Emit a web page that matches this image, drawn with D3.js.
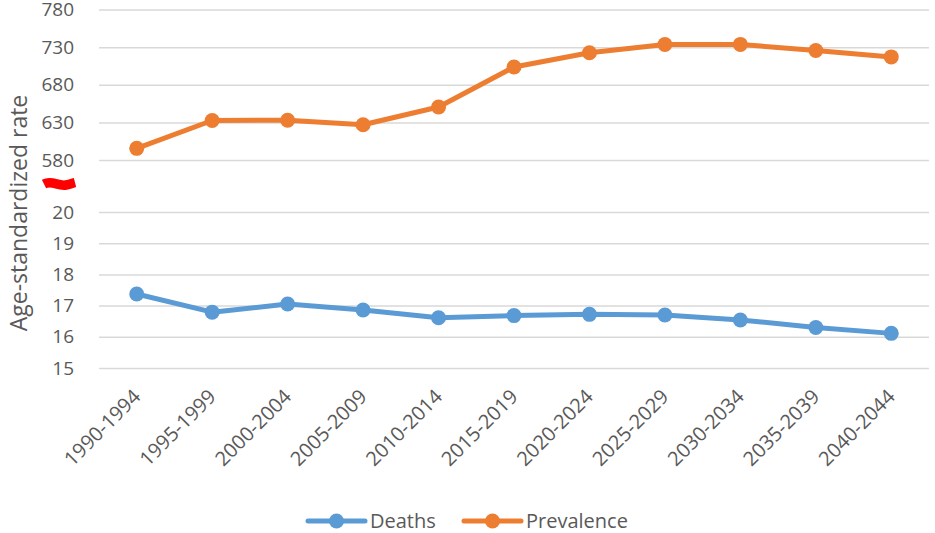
<!DOCTYPE html>
<html>
<head>
<meta charset="utf-8">
<script src="https://cdn.jsdelivr.net/npm/d3@7"></script>
<style>
  body { margin: 0; background: #fff; }
  text { font-family: "Open Sans", sans-serif; fill: #595959; }
</style>
</head>
<body>
<div id="chart"></div>
<script>
const periods = ["1990-1994", "1995-1999", "2000-2004", "2005-2009", "2010-2014", "2015-2019",
                 "2020-2024", "2025-2029", "2030-2034", "2035-2039", "2040-2044"];
const deaths = [17.37, 16.79, 17.05, 16.86, 16.61, 16.68, 16.72, 16.70, 16.54, 16.30, 16.11];
const prevalence = [595.5, 632.5, 632.8, 626.8, 650.5, 703.5, 722.5, 733.5, 733.6, 725.5, 717];
const upperTicks = [580, 630, 680, 730, 780];
const lowerTicks = [15, 16, 17, 18, 19, 20];

const W = 935, H = 533;
const left = 99, right = 929;

const svg = d3.select('#chart').append('svg')
    .attr('width', W)
    .attr('height', H);

const x = d3.scalePoint().domain(periods).range([left, right]).padding(0.5);
// broken axis: two scales stacked
const yUp = d3.scaleLinear().domain([580, 780]).range([160, 9.5]);
const yLow = d3.scaleLinear().domain([15, 20]).range([368, 212]);

function grid(scale, ticks) {
    const ax = d3.axisLeft(scale).tickValues(ticks).tickSize(-(right - left))
        .tickPadding(25).tickFormat(d3.format('d'));
    const g = svg.append('g').attr('transform', 'translate(' + left + ',0)').call(ax);
    g.select('.domain').remove();
    g.selectAll('.tick line').attr('stroke', '#d9d9d9').attr('stroke-width', 1.5);
    g.selectAll('.tick text').attr('font-size', 19).attr('fill', '#595959')
        .style('font-family', '"Open Sans", sans-serif');
}
grid(yUp, upperTicks);
grid(yLow, lowerTicks);

// red break mark
svg.append('path')
    .attr('d', 'M44,184 C52,180 58,186.5 66,185 C70,184.3 73,183 75,182.5')
    .attr('fill', 'none')
    .attr('stroke', '#ff0000')
    .attr('stroke-width', 9.5);

// x labels
svg.append('g').selectAll('text')
    .data(periods)
    .join('text')
    .attr('transform', d => 'translate(' + (x(d) + 5) + ',398) rotate(-45)')
    .attr('text-anchor', 'end')
    .attr('font-size', 20)
    .text(d => d);

// y title
svg.append('text')
    .attr('transform', 'translate(27,213) rotate(-90)')
    .attr('text-anchor', 'middle')
    .attr('font-size', 23)
    .text('Age-standardized rate');

function series(vals, y, color) {
    const line = d3.line().x((d, i) => x(periods[i])).y(d => y(d));
    svg.append('path').datum(vals)
        .attr('d', line)
        .attr('fill', 'none')
        .attr('stroke', color)
        .attr('stroke-width', 5)
        .attr('stroke-linejoin', 'round');
    svg.append('g').selectAll('circle')
        .data(vals)
        .join('circle')
        .attr('cx', (d, i) => x(periods[i]))
        .attr('cy', d => y(d))
        .attr('r', 7.5)
        .attr('fill', color);
}
series(deaths, yLow, '#5b9bd5');
series(prevalence, yUp, '#ed7d31');

// legend
const legend = [
    { name: 'Deaths', color: '#5b9bd5', x: 308 },
    { name: 'Prevalence', color: '#ed7d31', x: 464 }
];
const lg = svg.append('g').selectAll('g').data(legend).join('g')
    .attr('transform', d => 'translate(' + d.x + ',521)');
lg.append('line').attr('x1', 0).attr('x2', 57)
    .attr('stroke', d => d.color).attr('stroke-width', 5).attr('stroke-linecap', 'round');
lg.append('circle').attr('cx', 28.5).attr('r', 7.5).attr('fill', d => d.color);
lg.append('text').attr('x', 62).attr('y', 7).attr('font-size', 20).text(d => d.name);
</script>
</body>
</html>
